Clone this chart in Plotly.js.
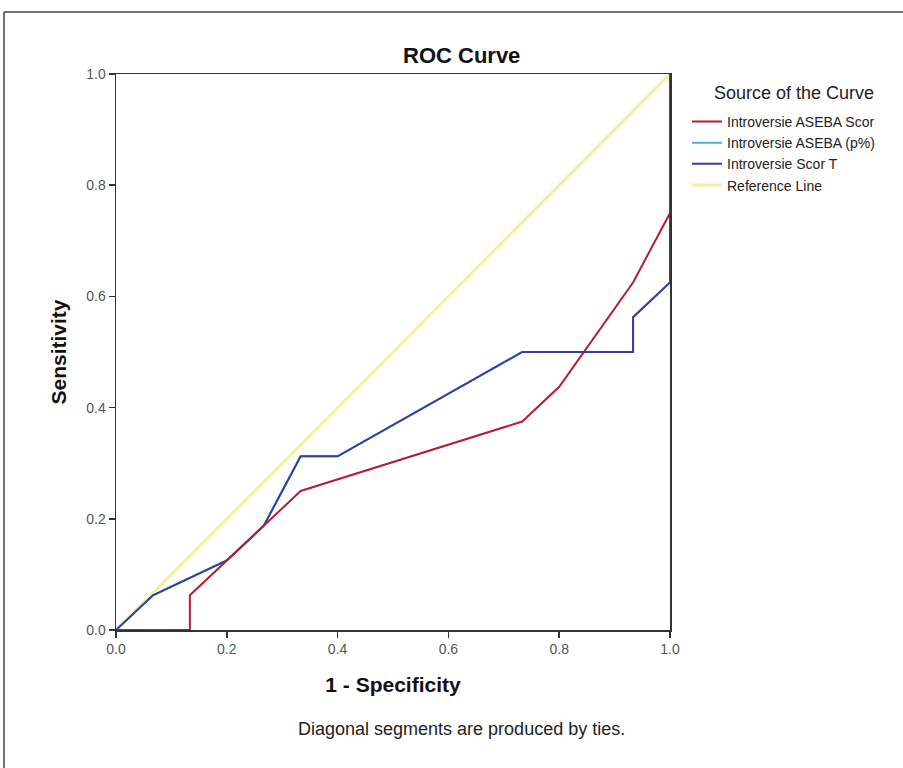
<!DOCTYPE html>
<html>
<head>
<meta charset="utf-8">
<script src="https://cdn.plot.ly/plotly-3.0.1.min.js"></script>
<style>
html,body{margin:0;padding:0;background:#fff;}
#chart{width:903px;height:768px;}
</style>
</head>
<body>
<div id="chart"></div>
<script>
// ROC data (1 - Specificity, Sensitivity)
var scorX = [0, 0.1333, 0.1333, 0.2, 0.2667, 0.3333, 0.7333, 0.8, 0.9333, 1, 1];
var scorY = [0, 0, 0.0625, 0.125, 0.1875, 0.25, 0.375, 0.4375, 0.625, 0.75, 1];
var pctX = [0, 0.0667, 0.2, 0.2667, 0.3333, 0.4, 0.7333, 0.9333, 0.9333, 1, 1];
var pctY = [0, 0.0625, 0.125, 0.1875, 0.3125, 0.3125, 0.5, 0.5, 0.5625, 0.625, 1];
var scorTX = [0, 0.0667, 0.2, 0.2667, 0.3333, 0.4, 0.7333, 0.9333, 0.9333, 1, 1];
var scorTY = [0, 0.0625, 0.125, 0.1875, 0.3125, 0.3125, 0.5, 0.5, 0.5625, 0.625, 1];
var refX = [0, 1];
var refY = [0, 1];
var tickVals = [0, 0.2, 0.4, 0.6, 0.8, 1.0];
var tickText = ["0.0", "0.2", "0.4", "0.6", "0.8", "1.0"];
var seriesNames = ["Introversie ASEBA Scor", "Introversie ASEBA (p%)", "Introversie Scor T", "Reference Line"];

var traces = [
  {x: refX, y: refY, mode: 'lines', name: seriesNames[3], legendrank: 4,
   line: {color: 'rgb(242,242,150)', width: 3}},
  {x: pctX, y: pctY, mode: 'lines', name: seriesNames[1], legendrank: 2,
   line: {color: 'rgb(72,176,220)', width: 2}},
  {x: scorTX, y: scorTY, mode: 'lines', name: seriesNames[2], legendrank: 3,
   line: {color: 'rgb(52,62,160)', width: 2}},
  {x: scorX, y: scorY, mode: 'lines', name: seriesNames[0], legendrank: 1,
   line: {color: 'rgb(178,30,52)', width: 2}}
];

var axisCommon = {
  range: [0, 1], showgrid: false, zeroline: false,
  showline: true, linecolor: '#333', linewidth: 1.5, mirror: true,
  ticks: 'outside', ticklen: 6, tickcolor: '#333', tickwidth: 1.5,
  tickvals: tickVals, ticktext: tickText,
  tickfont: {family: 'Liberation Sans, Arial, sans-serif', size: 14, color: '#555'},
  layer: 'below traces', fixedrange: true
};

var layout = {
  width: 903, height: 768,
  margin: {l: 116, r: 233, t: 74, b: 138},
  paper_bgcolor: '#fff', plot_bgcolor: '#fff',
  font: {family: 'Liberation Sans, Arial, sans-serif', color: '#111'},
  showlegend: true,
  legend: {
    x: 1.0307, xanchor: 'left', y: 0.9427, yanchor: 'top',
    font: {family: 'Liberation Sans, Arial, sans-serif', size: 14, color: '#222'},
    bgcolor: 'rgba(0,0,0,0)', borderwidth: 0, tracegroupgap: 0
  },
  xaxis: Object.assign({}, axisCommon, {
    title: {text: '<b>1 - Specificity</b>', font: {size: 21, color: '#111'}, standoff: 21}
  }),
  yaxis: Object.assign({}, axisCommon, {
    title: {text: '<b>Sensitivity</b>', font: {size: 21, color: '#111'}, standoff: 14}
  }),
  annotations: [
    {text: '<b>ROC Curve</b>', xref: 'paper', yref: 'paper', x: 0.6245, y: 1.034,
     xanchor: 'center', yanchor: 'middle', showarrow: false,
     font: {size: 22, color: '#111'}},
    {text: 'Source of the Curve', xref: 'paper', yref: 'paper', x: (712 - 116) / 554, y: (630 - 93) / 556,
     xanchor: 'left', yanchor: 'middle', showarrow: false,
     font: {size: 18, color: '#222'}},
    {text: 'Diagonal segments are produced by ties.', xref: 'paper', yref: 'paper',
     x: 0.6245, y: (630 - 729) / 556, xanchor: 'center', yanchor: 'middle', showarrow: false,
     font: {size: 18, color: '#222'}}
  ],
  shapes: [
    {type: 'line', xref: 'paper', yref: 'paper', x0: (4 - 116) / 554, x1: (4 - 116) / 554,
     y0: (630 - 12) / 556, y1: (630 - 780) / 556, line: {color: '#444', width: 1.5}},
    {type: 'line', xref: 'paper', yref: 'paper', x0: (4 - 116) / 554, x1: (920 - 116) / 554,
     y0: (630 - 12) / 556, y1: (630 - 12) / 556, line: {color: '#444', width: 1.5}}
  ]
};

Plotly.newPlot('chart', traces, layout, {displayModeBar: false, staticPlot: true});
</script>
</body>
</html>
